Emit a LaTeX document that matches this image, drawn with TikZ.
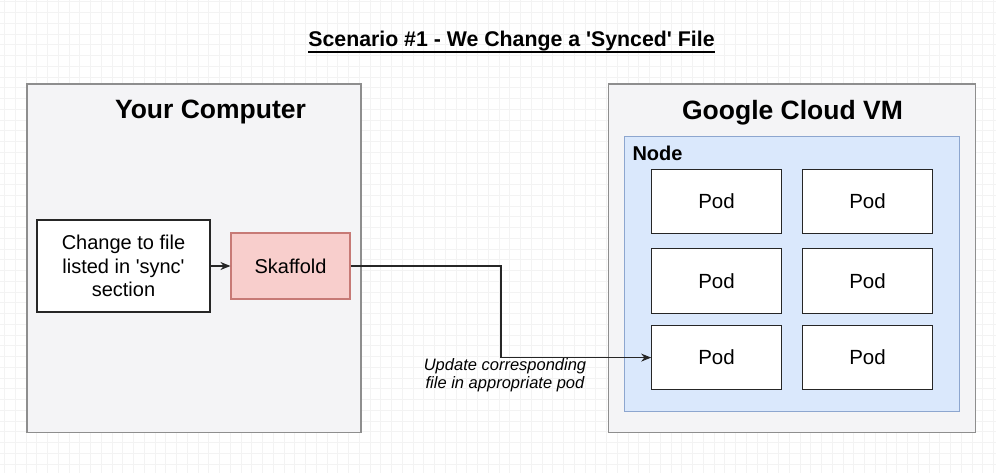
\documentclass[tikz,border=0pt]{standalone}
\usepackage{fontspec}
\setmainfont{Liberation Sans}
\usetikzlibrary{arrows.meta}
\definecolor{gridc}{HTML}{F3F3F3}
\definecolor{outerfill}{HTML}{F4F4F6}
\definecolor{outerdraw}{HTML}{8E8E8E}
\definecolor{nodefill}{HTML}{DAE8FC}
\definecolor{nodedraw}{HTML}{8DA6CF}
\definecolor{skfill}{HTML}{F8CECC}
\definecolor{skdraw}{HTML}{C77A76}
\definecolor{linec}{HTML}{262626}
\tikzset{
  outerbox/.style={draw=outerdraw, fill=outerfill, line width=1.3pt, inner sep=0pt},
  nodebox/.style={draw=nodedraw, fill=nodefill, line width=1.2pt, inner sep=0pt},
  podbox/.style={draw=linec, fill=white, line width=1.1pt, inner sep=0pt,
    minimum width=129.6pt, minimum height=64.5pt, font=\fontsize{20.5}{23.5}\selectfont},
  plainbox/.style={draw=linec, fill=white, line width=1.1pt, inner sep=0pt, align=center,
    font=\fontsize{20}{23.5}\selectfont},
  skbox/.style={draw=skdraw, fill=skfill, line width=1.1pt, inner sep=0pt,
    font=\fontsize{20}{23.5}\selectfont},
  heading/.style={font=\bfseries\fontsize{26.5}{30}\selectfont, inner sep=0pt, anchor=base},
  conn/.style={draw=linec, line width=1.1pt},
  arr/.style={conn, -{Stealth[length=10pt,width=8pt]}},
}
\newcommand{\sq}{\textquotesingle}
\begin{document}
\begin{tikzpicture}[x=1pt,y=-1pt]
\useasboundingbox (0,0) rectangle (996,473);
\fill[white] (0,0) rectangle (996,473);
% grid
\foreach \x in {4.5,15.25,...,996} \draw[gridc, line width=0.6pt] (\x,0) -- (\x,473);
\foreach \y in {1.7,12.45,...,473} \draw[gridc, line width=0.6pt] (0,\y) -- (996,\y);
% title
\node[font=\bfseries\fontsize{21.3}{25}\selectfont, inner sep=0pt, anchor=base] (title) at (511.5,47) {Scenario \#1 - We Change a \sq Synced\sq{} File};
\draw[black, line width=2pt] ([yshift=-4.6pt]title.base west) -- ([yshift=-4.6pt]title.base east);
% your computer
\node[outerbox, minimum width=334pt, minimum height=348.5pt] (yc) at (194,258.3) {};
\node[heading] (yct) at (210.5,119) {Your Computer};
\node[plainbox, minimum width=173pt, minimum height=92pt] (chg) at (123.5,266) {Change to file\\listed in \sq sync\sq\\section};
\node[skbox, minimum width=119pt, minimum height=66pt] (sk) at (290.5,266) {Skaffold};
\draw[arr] (chg.east) -- (sk.west);
% google cloud vm
\node[outerbox, minimum width=367.4pt, minimum height=348.5pt] (vm) at (792,258.3) {};
\node[heading] (vmt) at (792.5,119.3) {Google Cloud VM};
\node[nodebox, minimum width=334.6pt, minimum height=275pt] (nd) at (792,274.2) {};
\node[font=\bfseries\fontsize{20}{24}\selectfont, inner sep=0pt, anchor=base west] (ndt) at (632.3,161) {Node};
\node[podbox] (p11) at (716.5,201.5) {Pod};
\node[podbox] (p12) at (867.5,201.5) {Pod};
\node[podbox] (p21) at (716.5,281.2) {Pod};
\node[podbox] (p22) at (867.5,281.2) {Pod};
\node[podbox] (p31) at (716.5,357.6) {Pod};
\node[podbox] (p32) at (867.5,357.6) {Pod};
% connector
\coordinate (bend) at (501,310);
\draw[arr] (sk.east) -| (bend) |- (p31.west);
\node[font=\itshape\fontsize{16.5}{18.3}\selectfont, align=center, inner sep=0pt] (lbl) at (505,375.2) {Update corresponding\\file in appropriate pod};
\end{tikzpicture}
\end{document}
